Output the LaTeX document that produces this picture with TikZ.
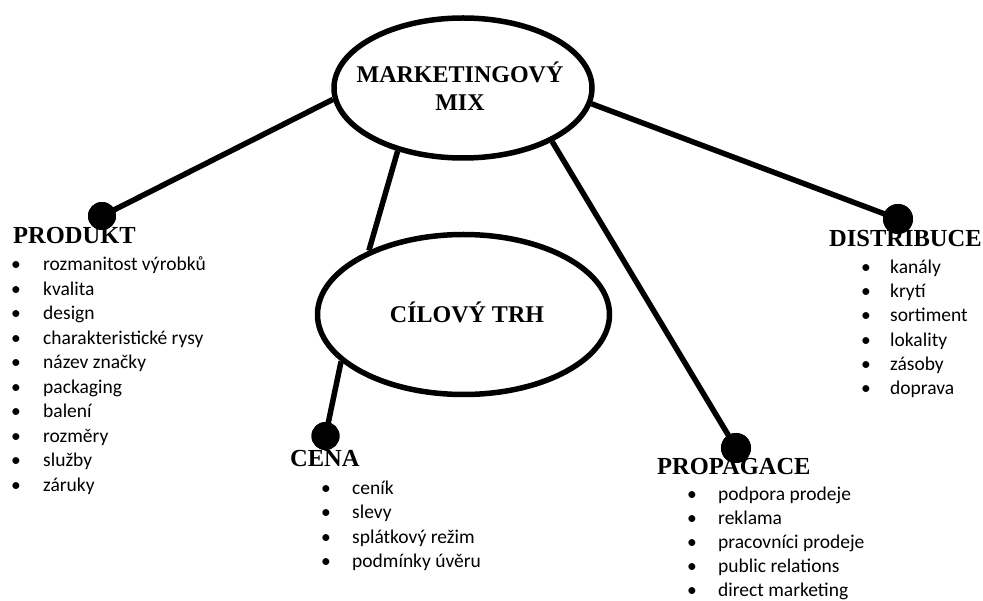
\documentclass[tikz,border=0pt]{standalone}
\usepackage{fontspec}
\setmainfont{Liberation Serif}
\newfontfamily\listfont{Carlito}
\usetikzlibrary{shapes.geometric}
\begin{document}
\begin{tikzpicture}[x=1pt,y=-1pt,
  oval/.style={ellipse,draw,line width=5.5pt,inner sep=0pt},
  wire/.style={line width=5.5pt},
  knob/.style={circle,fill,inner sep=0pt,minimum size=#1},
  knob/.default=28pt,
  head/.style={anchor=base west,inner sep=0pt,font=\fontsize{24.5}{27}\selectfont\bfseries},
  title/.style={anchor=base,inner sep=0pt,font=\fontsize{24}{27}\selectfont\bfseries},
  entry/.style={anchor=base west,inner sep=0pt,font=\fontsize{19.5}{24}\selectfont\listfont},
  bul/.style={anchor=base,inner sep=0pt,font=\fontsize{19.5}{24}\selectfont\listfont}]
\useasboundingbox[fill=white] (0,0) rectangle (983,601);

% central ellipses
\node[oval,minimum width=258pt,minimum height=140pt] (mm) at (463,88) {};
\node[title] (mmt1) at (460,83) {MARKETINGOVÝ};
\node[title] (mmt2) at (460,111) {MIX};
\node[oval,minimum width=292pt,minimum height=160pt] (ct) at (463.5,314.5) {};
\node[title] (ctt) at (467,323) {CÍLOVÝ TRH};

% end knobs
\node[knob] (kprod) at (102,216) {};
\node[knob] (kcena) at (325.5,436) {};
\node[knob=30pt] (kprop) at (736,448) {};
\node[knob=30pt] (kdist) at (898,219) {};

% connectors
\draw[wire] (mm.185) -- (kprod.center);
\draw[wire] (mm.224) -- (ct.146);
\draw[wire] (mm.329) -- (kprop.center);
\draw[wire] (mm.353) -- (kdist.center);
\draw[wire] (ct.201) -- (kcena.center);
\node[knob] at (kprod) {};
\node[knob] at (kcena) {};
\node[knob=30pt] at (kprop) {};
\node[knob=30pt] at (kdist) {};

% headings
\node[head] (hprod) at (13,244) {PRODUKT};
\node[head] (hcena) at (290,467) {CENA};
\node[head] (hprop) at (657,475) {PROPAGACE};
\node[head] (hdist) at (829,247) {DISTRIBUCE};

% item lists
\foreach \t [count=\i] in {rozmanitost výrobků, kvalita, design, charakteristické rysy, název značky, packaging, balení, rozměry, služby, záruky} {
  \node[bul] (prodb\i) at (16,{271+24.5*(\i-1)}) {\textbullet};
  \node[entry] (prod\i) at (43,{271+24.5*(\i-1)}) {\t};
}
\foreach \t [count=\i] in {ceník, slevy, splátkový režim, podmínky úvěru} {
  \node[bul] (cenab\i) at (326,{494+24.5*(\i-1)}) {\textbullet};
  \node[entry] (cena\i) at (352,{494+24.5*(\i-1)}) {\t};
}
\foreach \t [count=\i] in {podpora prodeje, reklama, pracovníci prodeje, public relations, direct marketing} {
  \node[bul] (propb\i) at (692,{500.5+23.9*(\i-1)}) {\textbullet};
  \node[entry] (prop\i) at (718,{500.5+23.9*(\i-1)}) {\t};
}
\foreach \t [count=\i] in {kanály, krytí, sortiment, lokality, zásoby, doprava} {
  \node[bul] (distb\i) at (866,{273.3+24.3*(\i-1)}) {\textbullet};
  \node[entry] (dist\i) at (890,{273.3+24.3*(\i-1)}) {\t};
}
\end{tikzpicture}
\end{document}
